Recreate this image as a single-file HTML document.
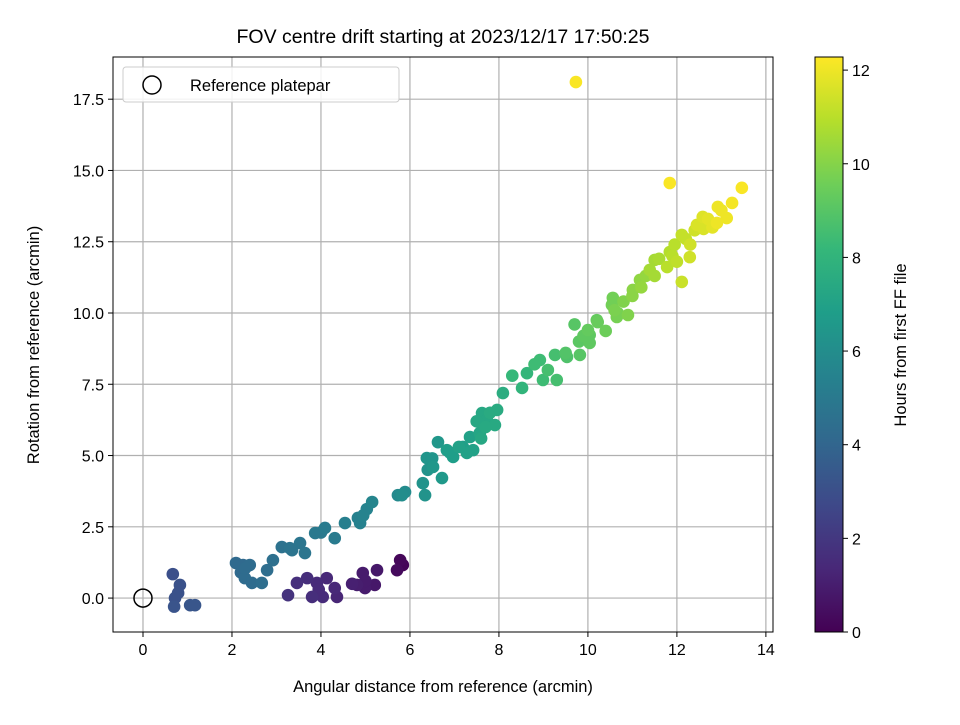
<!DOCTYPE html>
<html><head><meta charset="utf-8"><style>body{margin:0;background:#fff}svg{font-family:"Liberation Sans","DejaVu Sans",sans-serif}</style></head>
<body>
<svg id="c" width="960" height="720" xmlns="http://www.w3.org/2000/svg">
<defs><linearGradient id="vg" x1="0" y1="1" x2="0" y2="0">
<stop offset="0" stop-color="#440154"/><stop offset="0.111" stop-color="#482878"/><stop offset="0.222" stop-color="#3e4989"/><stop offset="0.333" stop-color="#31688e"/><stop offset="0.444" stop-color="#26828e"/><stop offset="0.556" stop-color="#1f9e89"/><stop offset="0.667" stop-color="#35b779"/><stop offset="0.778" stop-color="#6ece58"/><stop offset="0.889" stop-color="#b5de2b"/><stop offset="1" stop-color="#fde725"/></linearGradient></defs>
<g id="grid"></g><g id="pts"></g><g id="axes"></g>
</svg>
<script>
const xs=[3.26,3.46,3.69,3.91,4.13,4.31,4.36,3.8,4.04,4.81,4.94,5.26,5.21,4.99,5.78,5.71,5.84,
0.67,0.83,0.72,0.7,1.06,1.17,0.79,
2.09,2.25,2.4,2.29,2.45,2.67,2.79,2.92,3.12,3.35,3.53,3.64,3.87,4.09,4.31,4.54,4.83,5.03,5.15,5.73,5.89,4.88,
5.82,6.29,6.34,6.38,6.63,6.72,6.97,7.19,7.35,7.42,7.62,7.73,7.91,7.96,8.09,7.57,7.28,6.52,6.83,
8.52,8.63,8.92,8.99,9.26,9.3,9.53,9.82,10.04,9.7,10.04,10.22,10.4,10.54,10.67,
10.2,10.56,10.65,10.9,11.17,11.5,11.84,12.11,12.11,12.29,12.45,12.58,12.9,12.92,13.24,13.12,13.46,11.84,11.39,11.01,11.78,9.73,
11.3,11.6,11.95,12.2,12.4,12.7,12.8,13.0,12.6,11.0,10.8,11.2,10.6,11.9,12.0,12.3,11.5,
8.3,8.8,9.1,9.5,9.8,10.0,9.9,7.7,7.8,7.5,7.6,7.1,6.4,6.5,6.9,
2.2,2.3,3.3,4.0,4.95,3.95,4.7,5.0];
const ys=[0.1,0.53,0.7,0.53,0.7,0.35,0.04,0.04,0.04,0.46,0.88,0.98,0.46,0.35,1.33,0.98,1.16,
0.84,0.46,0,-0.3,-0.25,-0.25,0.18,
1.23,1.16,1.16,0.7,0.53,0.53,0.98,1.33,1.79,1.68,1.93,1.58,2.28,2.46,2.1,2.63,2.81,3.12,3.37,3.61,3.72,2.63,
3.61,4.03,3.61,4.91,5.47,4.21,4.95,5.3,5.65,5.19,6.49,6.25,6.07,6.6,7.19,5.79,5.09,4.6,5.19,
7.37,7.89,8.35,7.65,8.53,7.65,8.46,8.53,8.95,9.6,9.23,9.68,9.37,10.28,10.0,
9.75,10.53,9.86,9.93,11.16,11.86,12.14,11.09,12.74,11.96,13.09,13.37,13.16,13.72,13.86,13.33,14.39,14.56,11.51,10.81,11.61,18.1,
11.3,11.9,12.4,12.6,12.9,13.3,13.0,13.6,12.95,10.6,10.4,10.9,10.1,12.0,11.8,12.4,11.3,
7.8,8.2,8.0,8.6,9.0,9.4,9.2,6.0,6.5,6.2,5.6,5.3,4.5,4.9,5.1,
0.9,1.05,1.75,2.3,2.9,0.3,0.5,0.6];
const hours=[1.8,1.7,1.6,1.5,1.4,1.4,1.3,1.6,1.5,1.0,0.9,0.8,0.8,0.9,0.2,0.3,0.1,
3.0,3.1,3.1,3.2,3.3,3.3,3.1,
4.2,4.2,4.3,4.3,4.3,4.4,4.4,4.5,4.6,4.7,4.8,4.8,5.0,5.1,5.1,5.3,5.4,5.5,5.6,5.8,5.9,5.4,
6.0,6.3,6.3,6.4,6.5,6.6,6.8,6.9,7.0,7.0,7.3,7.3,7.4,7.5,7.6,7.2,7.0,6.5,6.8,
8.0,8.1,8.4,8.4,8.6,8.6,8.8,9.0,9.2,9.0,9.2,9.4,9.5,9.6,9.7,
9.3,9.6,9.7,9.9,10.2,10.6,10.9,11.3,11.2,11.4,11.6,11.7,12.0,12.0,12.1,12.0,12.2,12.2,10.6,10.1,11.0,12.2,
10.3,10.7,11.0,11.2,11.4,11.8,11.8,12.0,11.6,10.1,9.9,10.3,9.8,11.0,11.1,11.4,10.6,
8.2,8.4,8.6,8.9,9.1,9.3,9.2,7.4,7.5,7.3,7.3,7.0,6.3,6.4,6.8,
4.2,4.3,4.7,5.0,5.5,1.5,1.1,0.9];
const xTicks=[0,2,4,6,8,10,12,14];
const yTicks=[0,2.5,5,7.5,10,12.5,15,17.5];
const cTicks=[0,2,4,6,8,10,12];
const L=113,R=773,T=57,B=632,XMIN=-0.674,XMAX=14.16,YMIN=-1.19,YMAX=18.98,CMAX=12.28;
const sx=v=>L+(v-XMIN)/(XMAX-XMIN)*(R-L), sy=v=>B-(v-YMIN)/(YMAX-YMIN)*(B-T);
const vir=[[68,1,84],[72,40,120],[62,73,137],[49,104,142],[38,130,142],[31,158,137],[53,183,121],[110,206,88],[181,222,43],[253,231,37]];
function col(t){const f=Math.max(0,Math.min(1,t/CMAX))*9;const i=Math.min(8,Math.floor(f));const u=f-i;
  const a=vir[i],b=vir[i+1];
  return 'rgb('+a.map((v,k)=>Math.round(v+(b[k]-v)*u)).join(',')+')';}
const NS='http://www.w3.org/2000/svg';
function mk(tag,at,par,txt){const e=document.createElementNS(NS,tag);for(const k in at)e.setAttribute(k,at[k]);if(txt!=null)e.textContent=txt;par.appendChild(e);return e;}
const G=document.getElementById('grid'),P=document.getElementById('pts'),A=document.getElementById('axes');
xTicks.forEach(v=>{const x=sx(v);
 const g=mk('line',{x1:x,x2:x,y1:T,y2:B,stroke:'#b0b0b0','stroke-width':1.2},G);
 
 
 mk('line',{x1:x,x2:x,y1:B,y2:B+5,stroke:'#000'},A);
 const t=mk('text',{x:x,y:B+23,'text-anchor':'middle','font-size':16},A,String(v));
 
 });
yTicks.forEach(v=>{const y=sy(v);
 const g=mk('line',{x1:L,x2:R,y1:y,y2:y,stroke:'#b0b0b0','stroke-width':1.2},G);
 
 
 mk('line',{x1:L-5,x2:L,y1:y,y2:y,stroke:'#000'},A);
 const t=mk('text',{x:L-9,y:y+6,'text-anchor':'end','font-size':16},A,v.toFixed(1));
 
 });
const order=hours.map((h,i)=>i).sort((a,b)=>hours[a]-hours[b]);
order.forEach(i=>{const c=mk('circle',{cx:sx(xs[i]),cy:sy(ys[i]),r:6.3,fill:col(hours[i])},P);
 
 });
const ref=mk('circle',{cx:sx(0),cy:sy(0),r:9,fill:'none',stroke:'#000','stroke-width':1.5},P);


mk('rect',{x:L,y:T,width:R-L,height:B-T,fill:'none',stroke:'#000','stroke-width':1},A);
const CL=815,CR=843;const cs=v=>B-v/CMAX*(B-T);
const cb=mk('rect',{x:CL,y:T,width:CR-CL,height:B-T,fill:'url(#vg)',stroke:'#000'},A);


cTicks.forEach(v=>{const y=cs(v);mk('line',{x1:CR,x2:CR+5,y1:y,y2:y,stroke:'#000'},A);
 const t=mk('text',{x:CR+9,y:y+6,'font-size':16},A,String(v));
 
 });
</script>
<svg style="position:absolute;left:0;top:0" width="960" height="720" xmlns="http://www.w3.org/2000/svg">
<text x="443" y="43" text-anchor="middle" font-size="19.5">FOV centre drift starting at 2023/12/17 17:50:25</text>
<text x="443" y="692" text-anchor="middle" font-size="16.5">Angular distance from reference (arcmin)</text>
<text transform="translate(39,345) rotate(-90)" text-anchor="middle" font-size="16.5">Rotation from reference (arcmin)</text>
<text transform="translate(906,345) rotate(-90)" text-anchor="middle" font-size="16.5">Hours from first FF file</text>
<g>
<rect x="123" y="67" width="276" height="35" rx="3" fill="#fff" fill-opacity="0.85" stroke="#ccc"/>
<circle cx="152" cy="85" r="9" fill="none" stroke="#000" stroke-width="1.5"/>
<text x="190" y="91" font-size="16.5">Reference platepar</text></g>
</svg>
</body></html>
